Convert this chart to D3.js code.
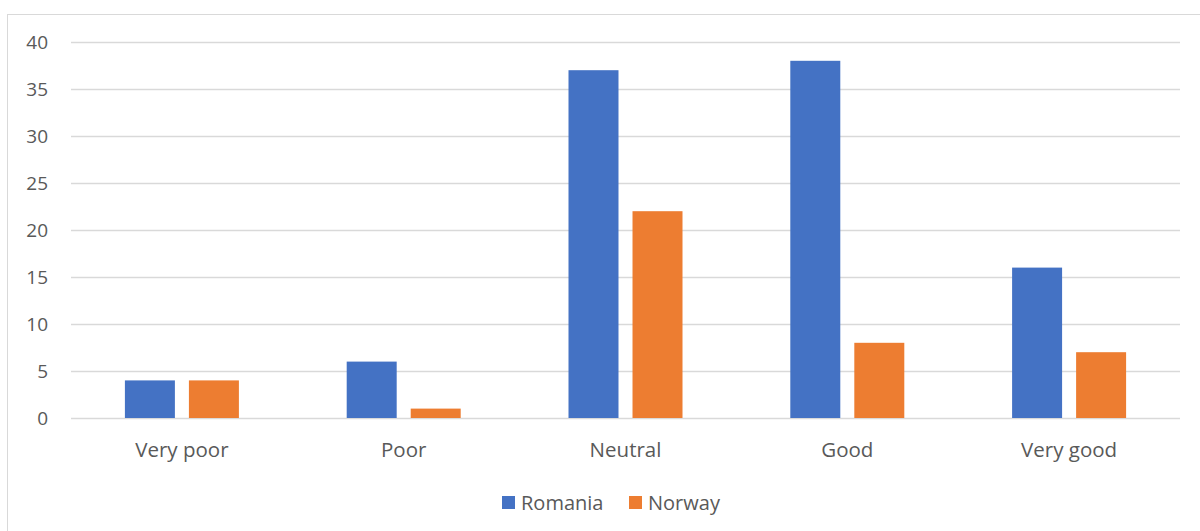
<!DOCTYPE html>
<html>
<head>
<meta charset="utf-8">
<script src="https://cdn.jsdelivr.net/npm/d3@7"></script>
<style>
  body { margin: 0; background: #fff; }
  text { font-family: "Open Sans", sans-serif; fill: #595959; }
</style>
</head>
<body>
<div id="chart"></div>
<script>
// Données
var categories = ["Very poor", "Poor", "Neutral", "Good", "Very good"];
var series = ["Romania", "Norway"];
var romania = [4, 6, 37, 38, 16];
var norway = [4, 1, 22, 8, 7];
var yTicks = [0, 5, 10, 15, 20, 25, 30, 35, 40];
var colors = {"Romania" : "#4472C4", "Norway" : "#ED7D31"};

var W = 1200, H = 531;
var svg = d3.select("#chart").append("svg")
    .attr("width", W)
    .attr("height", H);

// cadre
svg.append("rect")
    .attr("x", 7.5).attr("y", 14.5)
    .attr("width", W).attr("height", H)
    .attr("fill", "none")
    .attr("stroke", "#d9d9d9");

var plot = {"left" : 71, "right" : 1180, "top" : 42, "bottom" : 418};

var x = d3.scaleBand().domain(categories).range([plot.left, plot.right]);
var y = d3.scaleLinear().domain([0, 40]).range([plot.bottom, plot.top]);

// grille
svg.append("g").selectAll("line")
    .data(yTicks)
    .enter().append("line")
    .attr("x1", plot.left).attr("x2", plot.right)
    .attr("y1", function(d){return Math.round(y(d)) + 0.5;})
    .attr("y2", function(d){return Math.round(y(d)) + 0.5;})
    .attr("stroke", "#d9d9d9")
    .attr("stroke-width", 1.3);

// axe y
var yAxis = svg.append("g")
    .attr("transform", "translate(" + (plot.left - 23) + ",0)")
    .call(d3.axisLeft(y).tickValues(yTicks).tickSize(0).tickPadding(0));
yAxis.select(".domain").remove();
yAxis.selectAll("text").attr("font-size", 19).attr("fill", "#595959")
    .style("font-family", "'Open Sans', sans-serif");

// barres
var data = categories.map(function(c, i){return {"cat" : c, "Romania" : romania[i], "Norway" : norway[i]};});
var inner = d3.scaleBand().domain(series).range([-57, 57]).paddingInner(0.219);

var groups = svg.append("g").selectAll("g")
    .data(data)
    .enter().append("g")
    .attr("transform", function(d){return "translate(" + (x(d.cat) + x.bandwidth() / 2) + ",0)";});

groups.selectAll("rect")
    .data(function(d){return series.map(function(s){return {"s" : s, "v" : d[s]};});})
    .enter().append("rect")
    .attr("x", function(d){return inner(d.s);})
    .attr("width", inner.bandwidth())
    .attr("y", function(d){return y(d.v);})
    .attr("height", function(d){return y(0) - y(d.v);})
    .attr("fill", function(d){return colors[d.s];});

// axe x
svg.append("g").selectAll("text")
    .data(categories)
    .enter().append("text")
    .attr("x", function(d){return x(d) + x.bandwidth() / 2;})
    .attr("y", 457)
    .attr("text-anchor", "middle")
    .attr("font-size", 20.5)
    .text(function(d){return d;});

// légende
var legend = [{"s" : "Romania", "x" : 502}, {"s" : "Norway", "x" : 629}];
var lg = svg.append("g").selectAll("g")
    .data(legend)
    .enter().append("g")
    .attr("transform", function(d){return "translate(" + d.x + ",496)";});
lg.append("rect").attr("width", 13).attr("height", 13)
    .attr("fill", function(d){return colors[d.s];});
lg.append("text").attr("x", 19).attr("y", 13.5)
    .attr("font-size", 20)
    .text(function(d){return d.s;});
</script>
</body>
</html>
